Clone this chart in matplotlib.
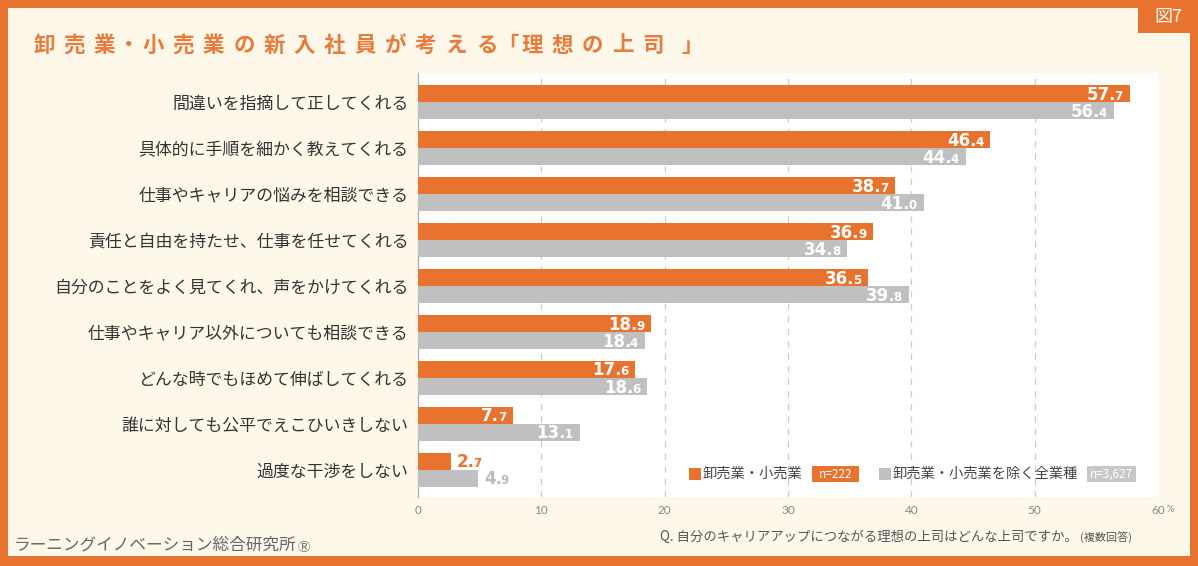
import matplotlib.pyplot as plt
from matplotlib.patches import Rectangle

plt.rcParams['font.family'] = ['Noto Sans CJK JP', 'DejaVu Sans']

categories = [
    "間違いを指摘して正してくれる",
    "具体的に手順を細かく教えてくれる",
    "仕事やキャリアの悩みを相談できる",
    "責任と自由を持たせ、仕事を任せてくれる",
    "自分のことをよく見てくれ、声をかけてくれる",
    "仕事やキャリア以外についても相談できる",
    "どんな時でもほめて伸ばしてくれる",
    "誰に対しても公平でえこひいきしない",
    "過度な干渉をしない",
]
retail = [57.7, 46.4, 38.7, 36.9, 36.5, 18.9, 17.6, 7.7, 2.7]
others = [56.4, 44.4, 41.0, 34.8, 39.8, 18.4, 18.6, 13.1, 4.9]
xticks = [0, 10, 20, 30, 40, 50, 60]

title = "卸売業・小売業の新入社員が考える「理想の上司」"
legend_labels = ["卸売業・小売業", "卸売業・小売業を除く全業種"]
legend_n = ["n=222", "n=3,627"]
question = "Q. 自分のキャリアアップにつながる理想の上司はどんな上司ですか。"
credit = "ラーニングイノベーション総合研究所"

ORANGE = "#E8732F"
GRAY = "#C0C0C0"
CREAM = "#FDF8EA"
TEXT = "#333333"
W, H = 1198, 566


def fx(px):
    return px / W


def fy(py):
    return 1 - py / H


fig = plt.figure(figsize=(W / 100, H / 100), dpi=100, facecolor=ORANGE)

# cream panel inside the orange frame
fig.patches.append(Rectangle((fx(8), fy(556)), fx(1190) - fx(8), fy(8) - fy(556),
                             transform=fig.transFigure, facecolor=CREAM,
                             edgecolor="none", zorder=-10))
# "図7" tab
fig.patches.append(Rectangle((fx(1138), fy(33)), fx(W) - fx(1138), fy(0) - fy(33),
                             transform=fig.transFigure, facecolor=ORANGE,
                             edgecolor="none", zorder=-5))
fig.text(fx(1168), fy(17), "図7", color="white", fontsize=13,
         ha="center", va="center")

# title, spaced out character by character (narrow steps around ・ and brackets)
pitch = 30.3
x = 44
prev = None
for ch in title:
    if prev is not None:
        if ch == "・" or prev == "・":
            x += 0.8 * pitch
        elif ch == "「":
            x += 0.7 * pitch
        elif prev == "「":
            x += 0.8 * pitch
        elif ch == "」":
            x += 1.3 * pitch
        else:
            x += pitch
    fig.text(fx(x), fy(45), ch, color="#E97B3C", fontsize=15.5,
             fontweight="bold", ha="center", va="center")
    prev = ch

ax = fig.add_axes([fx(418), fy(497), fx(1158) - fx(418), fy(73) - fy(497)])
ax.set_facecolor("white")

n = len(categories)
ys = list(range(n))
h = 0.37
ax.barh([y - h / 2 for y in ys], retail, height=h, color=ORANGE, zorder=3)
ax.barh([y + h / 2 for y in ys], others, height=h, color=GRAY, zorder=3)

ax.set_xlim(0, 60)
ax.set_ylim(n - 1 + 0.59, -0.63)
ax.set_yticks(ys)
ax.set_yticklabels(categories, fontsize=12.2, color=TEXT)
ax.set_xticks(xticks)
ax.set_xticklabels([str(t) for t in xticks],
                   fontsize=8.5, color="#888888", family="Lato")
ax.tick_params(length=0, pad=6)
ax.tick_params(axis="y", pad=7)
for t in xticks[1:-1]:
    ax.axvline(t, color="#CCCCCC", lw=0.9, ls=(0, (5, 5)), zorder=1)
for s in ["top", "right", "bottom"]:
    ax.spines[s].set_visible(False)
ax.spines["left"].set_color("#AAAAAA")
ax.spines["left"].set_linewidth(0.9)
fig.text(fx(1167), fy(509), "%", fontsize=6.5, color="#888888",
         ha="left", va="center", family="Lato")

fig.canvas.draw()
renderer = fig.canvas.get_renderer()

BIG, SMALL, DROP = 12, 8.5, -4.4
NUMFONT = "DejaVu Sans"


def value_label(val, y, color, inside):
    whole, dec = f"{val:.1f}".split(".")
    kw = dict(textcoords="offset points", va="baseline", fontweight="bold",
              family=NUMFONT, zorder=5)
    if inside:
        d = ax.annotate(dec, (val, y), xytext=(-5, DROP), ha="right",
                        color="white", fontsize=SMALL, **kw)
        dw = d.get_window_extent(renderer).width * 72 / fig.dpi
        ax.annotate(whole + ".", (val, y), xytext=(-4 - dw, DROP), ha="right",
                    color="white", fontsize=BIG, **kw)
    else:
        m = ax.annotate(whole + ".", (val, y), xytext=(4, DROP), ha="left",
                        color=color, fontsize=BIG, **kw)
        mw = m.get_window_extent(renderer).width * 72 / fig.dpi
        ax.annotate(dec, (val, y), xytext=(3 + mw, DROP), ha="left",
                    color=color, fontsize=SMALL, **kw)


for y, v in zip(ys, retail):
    value_label(v, y - h / 2, ORANGE, v > 6)
for y, v in zip(ys, others):
    value_label(v, y + h / 2, "#BBBBBB", v > 6)


# legend drawn by hand
def legend_item(x_sq, x_box0, x_box1, label, ntext, color, box_color):
    fig.patches.append(Rectangle((fx(x_sq), fy(480)), fx(12), fy(0) - fy(12),
                                 transform=fig.transFigure, facecolor=color,
                                 edgecolor="none", zorder=4))
    fig.text(fx(x_sq + 14), fy(474), label, fontsize=10.3, color="#444444",
             ha="left", va="center")
    fig.patches.append(Rectangle((fx(x_box0), fy(482)), fx(x_box1 - x_box0), fy(0) - fy(16),
                                 transform=fig.transFigure, facecolor=box_color,
                                 edgecolor="none", zorder=4))
    fig.text(fx((x_box0 + x_box1) / 2), fy(474), ntext, fontsize=8.5,
             color="white", ha="center", va="center", zorder=5)


legend_item(689, 812, 859, legend_labels[0], legend_n[0], ORANGE, ORANGE)
legend_item(879, 1087, 1136, legend_labels[1], legend_n[1], GRAY, "#C8C8C8")

q = fig.text(fx(660), fy(537), question, fontsize=9.6, color="#555555",
             ha="left", va="center")
qx = q.get_window_extent(renderer).x1
fig.text(qx / W + fx(2), fy(538), "(複数回答)", fontsize=8, color="#555555",
         ha="left", va="center")
c = fig.text(fx(14), fy(545), credit, fontsize=12, color="#666666",
             ha="left", va="center")
cx = c.get_window_extent(renderer).x1
fig.text(cx / W + fx(1), fy(547), "Ⓡ", fontsize=9, color="#666666",
         ha="left", va="center", family=["DejaVu Sans", "Noto Sans CJK JP"])

fig.savefig("out.png", dpi=100, facecolor=ORANGE)
